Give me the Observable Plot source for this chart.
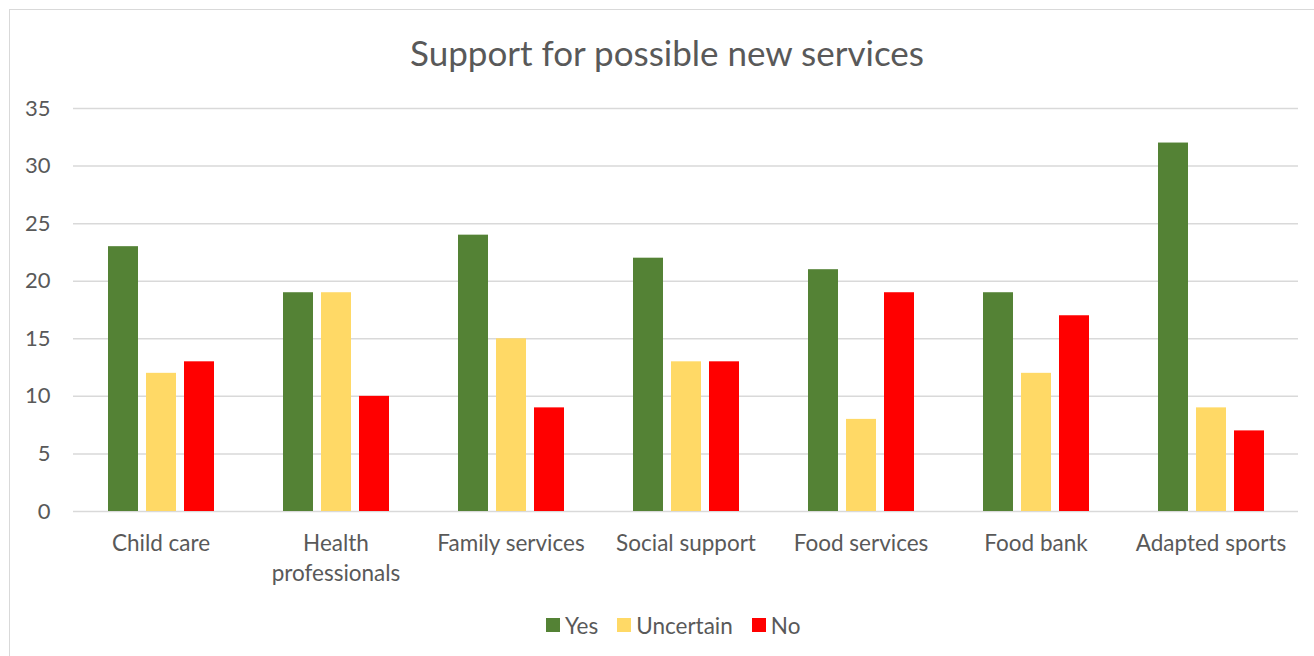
<!DOCTYPE html>
<html>
<head>
<meta charset="utf-8">
<script src="https://cdn.jsdelivr.net/npm/d3@7"></script>
<script src="https://cdn.jsdelivr.net/npm/@observablehq/plot@0.6"></script>
<style>
  html, body { margin: 0; padding: 0; background: #fff; }
  #wrap { position: relative; width: 1314px; height: 656px; overflow: hidden; font-family: Lato, "Open Sans", sans-serif; }
  #frame { position: absolute; left: 9px; top: 9px; width: 1330px; height: 680px; border: 1.5px solid #d9d9d9; box-sizing: border-box; }
  #title { position: absolute; left: 0; top: 0; width: 1334px; height: 90px; line-height: 104px; text-align: center; font-size: 35px; color: #595959; }
  #chart { position: absolute; left: 0; top: 90px; }
  #legend { position: absolute; left: 546px; top: 610px; height: 30px; display: flex; align-items: center; font-size: 22.5px; color: #595959; }
  .item { display: flex; align-items: center; margin-right: 19px; }
  .sw { width: 14px; height: 14px; margin-right: 5px; }
</style>
</head>
<body>
<div id="wrap">
  <div id="frame"></div>
  <div id="title"></div>
  <div id="chart"></div>
  <div id="legend"></div>
</div>
<script>
const title = "Support for possible new services";
const categories = ["Child care", "Health\nprofessionals", "Family services", "Social support", "Food services", "Food bank", "Adapted sports"];
const seriesNames = ["Yes", "Uncertain", "No"];
const seriesColors = ["#548235", "#FFD966", "#FF0000"];
const yesValues = [23, 19, 24, 22, 21, 19, 32];
const uncertainValues = [12, 19, 15, 13, 8, 12, 9];
const noValues = [13, 10, 9, 13, 19, 17, 7];
const yTicks = [0, 5, 10, 15, 20, 25, 30, 35];

const valuesBySeries = [yesValues, uncertainValues, noValues];
const data = [];
categories.forEach((c, i) => {
  seriesNames.forEach((s, j) => data.push({category: c, series: s, value: valuesBySeries[j][i]}));
});

document.getElementById("title").textContent = title;

const axisMarks = Plot.axisFx
  ? [Plot.axisFx({anchor: "bottom", tickSize: 0, tickPadding: 19, lineHeight: 1.3, label: null, fontSize: 22.5}),
     Plot.axisY(yTicks, {anchor: "left", tickSize: 0, tickPadding: 23, label: null, fontSize: 22})]
  : [];

const chart = Plot.plot({
  width: 1314,
  height: 500,
  marginLeft: 73,
  marginRight: 16,
  marginTop: 18,
  marginBottom: 79,
  style: {fontFamily: "Lato, 'Open Sans', sans-serif", fontSize: "22px", color: "#595959", background: "transparent"},
  fx: {domain: categories, padding: 0, label: null},
  x: {domain: seriesNames, paddingInner: 0.214, paddingOuter: 0.862, axis: null},
  y: {domain: [0, 35], label: null},
  color: {domain: seriesNames, range: seriesColors},
  marks: [
    Plot.ruleY(yTicks, {stroke: "#d9d9d9", strokeWidth: 1.5}),
    Plot.barY(data, {fx: "category", x: "series", y: "value", fill: "series"}),
    ...axisMarks
  ]
});
document.getElementById("chart").appendChild(chart);

const legend = document.getElementById("legend");
seriesNames.forEach((s, i) => {
  const it = document.createElement("div");
  it.className = "item";
  const sw = document.createElement("div");
  sw.className = "sw";
  sw.style.background = seriesColors[i];
  const t = document.createElement("span");
  t.textContent = s;
  it.appendChild(sw); it.appendChild(t);
  legend.appendChild(it);
});
</script>
</body>
</html>
